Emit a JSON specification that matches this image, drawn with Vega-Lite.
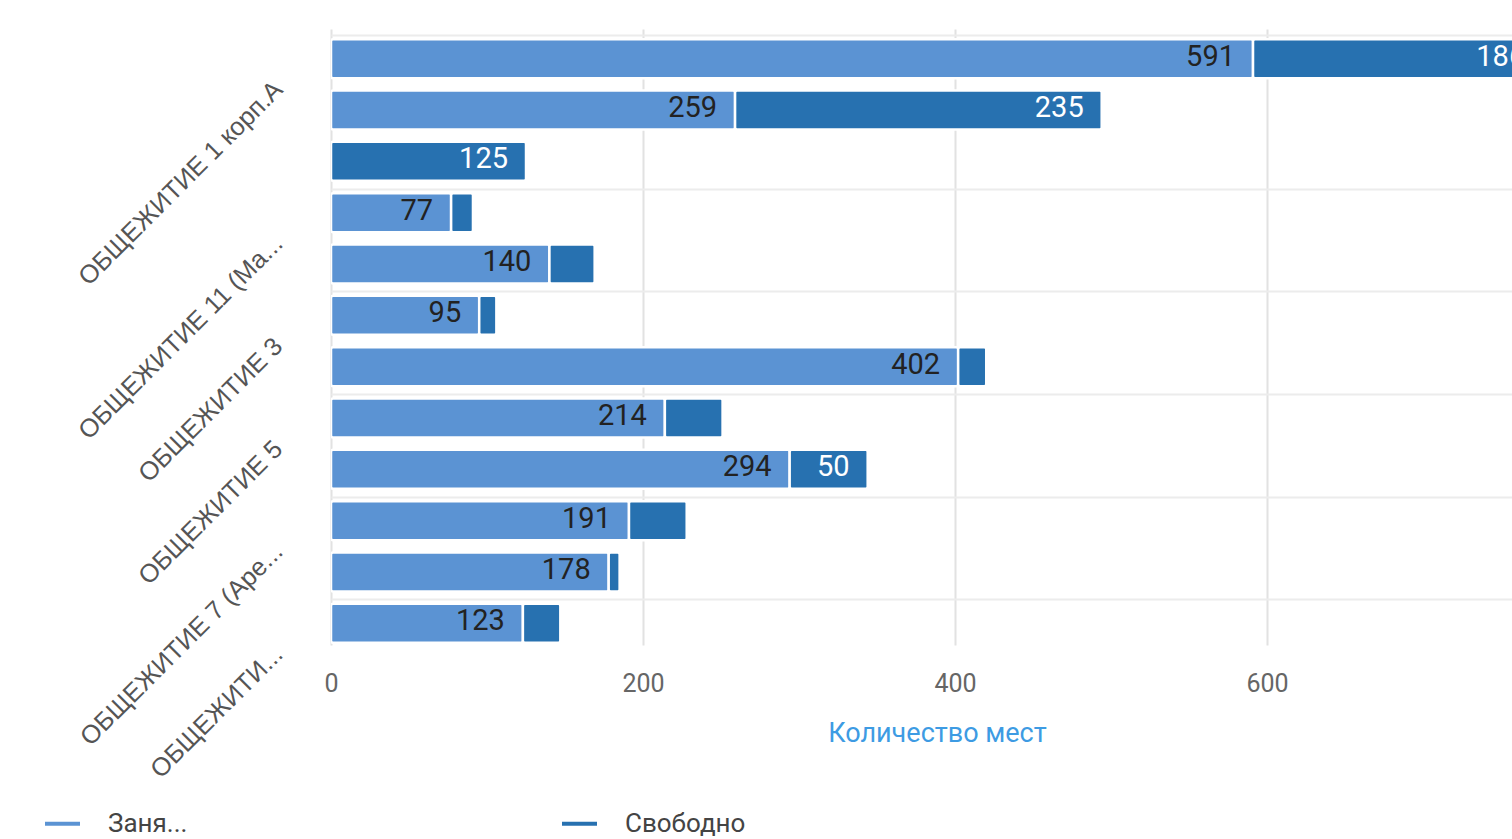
{
  "$schema": "https://vega.github.io/schema/vega-lite/v6.json",
  "autosize": {"type": "none"},
  "padding": {"left": 331, "top": 29, "right": 0, "bottom": 194},
  "width": 1181,
  "height": 616,
  "background": "white",
  "config": {"font": "Roboto", "view": {"stroke": null}},
  "data": {
    "values": [
      {"name": "ОБЩЕЖИТИЕ 1 корп.А", "series": "Занято", "value": 591},
      {"name": "ОБЩЕЖИТИЕ 1 корп.А", "series": "Свободно", "value": 186},
      {"name": "ОБЩЕЖИТИЕ 1 корп.Б", "series": "Занято", "value": 259},
      {"name": "ОБЩЕЖИТИЕ 1 корп.Б", "series": "Свободно", "value": 235},
      {"name": "ОБЩЕЖИТИЕ 10", "series": "Занято", "value": 0},
      {"name": "ОБЩЕЖИТИЕ 10", "series": "Свободно", "value": 125},
      {"name": "ОБЩЕЖИТИЕ 11 (Ма...", "series": "Занято", "value": 77},
      {"name": "ОБЩЕЖИТИЕ 11 (Ма...", "series": "Свободно", "value": 14},
      {"name": "ОБЩЕЖИТИЕ 2", "series": "Занято", "value": 140},
      {"name": "ОБЩЕЖИТИЕ 2", "series": "Свободно", "value": 29},
      {"name": "ОБЩЕЖИТИЕ 3", "series": "Занято", "value": 95},
      {"name": "ОБЩЕЖИТИЕ 3", "series": "Свободно", "value": 11},
      {"name": "ОБЩЕЖИТИЕ 4", "series": "Занято", "value": 402},
      {"name": "ОБЩЕЖИТИЕ 4", "series": "Свободно", "value": 18},
      {"name": "ОБЩЕЖИТИЕ 5", "series": "Занято", "value": 214},
      {"name": "ОБЩЕЖИТИЕ 5", "series": "Свободно", "value": 37},
      {"name": "ОБЩЕЖИТИЕ 6", "series": "Занято", "value": 294},
      {"name": "ОБЩЕЖИТИЕ 6", "series": "Свободно", "value": 50},
      {"name": "ОБЩЕЖИТИЕ 7 (Аре...", "series": "Занято", "value": 191},
      {"name": "ОБЩЕЖИТИЕ 7 (Аре...", "series": "Свободно", "value": 37},
      {"name": "ОБЩЕЖИТИЕ 8", "series": "Занято", "value": 178},
      {"name": "ОБЩЕЖИТИЕ 8", "series": "Свободно", "value": 7},
      {"name": "ОБЩЕЖИТИ...", "series": "Занято", "value": 123},
      {"name": "ОБЩЕЖИТИ...", "series": "Свободно", "value": 24}
    ]
  },
  "transform": [
    {"stack": "value", "groupby": ["name"], "sort": [{"field": "series", "order": "ascending"}], "as": ["v0", "v1"]}
  ],
  "encoding": {
    "y": {
      "field": "name", "type": "nominal", "sort": null,
      "scale": {"paddingInner": 0.24, "paddingOuter": 0.12},
      "axis": {
        "title": null,
        "values": ["ОБЩЕЖИТИЕ 1 корп.А", "ОБЩЕЖИТИЕ 11 (Ма...", "ОБЩЕЖИТИЕ 3", "ОБЩЕЖИТИЕ 5", "ОБЩЕЖИТИЕ 7 (Аре...", "ОБЩЕЖИТИ..."],
        "bandPosition": 0,
        "domain": false, "ticks": false,
        "grid": true, "gridColor": "#ececec", "gridWidth": 2,
        "labelAngle": -45, "labelAlign": "right", "labelBaseline": "middle",
        "labelPadding": 53, "labelOffset": 31,
        "labelFont": "Liberation Sans", "labelFontSize": 25.5, "labelColor": "#555555",
        "labelOverlap": false, "labelLimit": 0, "labelBound": false
      }
    }
  },
  "layer": [
    {
      "mark": {"type": "bar", "stroke": "white", "strokeWidth": 2.5, "cornerRadius": 2, "clip": true, "yOffset": 4},
      "encoding": {
        "x": {
          "field": "v0", "type": "quantitative",
          "scale": {"domain": [0, 757], "nice": false, "zero": true},
          "axis": {
            "values": [0, 200, 400, 600],
            "domain": false, "ticks": false,
            "grid": true, "gridColor": "#e2e2e2", "gridWidth": 2,
            "labelFontSize": 25, "labelColor": "#666666", "labelPadding": 26,
            "labelFlush": false,
            "title": "Количество мест", "titleFontSize": 27, "titleFontWeight": "normal",
            "titleColor": "#3d9be3", "titlePadding": 24, "titleX": 606
          }
        },
        "x2": {"field": "v1"},
        "color": {
          "field": "series", "type": "nominal",
          "scale": {"domain": ["Занято", "Свободно"], "range": ["#5b93d3", "#2771b0"]},
          "legend": {
            "title": null, "orient": "none", "direction": "horizontal",
            "legendX": -286, "legendY": 777,
            "symbolType": "M -1 -0.12 L 1 -0.12 L 1 0.12 L -1 0.12 Z", "symbolSize": 1225, "symbolStrokeWidth": 0,
            "labelFontSize": 26, "labelColor": "#444444", "labelOffset": 28,
            "columnPadding": 374,
            "labelExpr": "datum.label == 'Занято' ? 'Заня...' : datum.label"
          }
        }
      }
    },
    {
      "transform": [
        {"filter": "(datum.series == 'Занято' && datum.value > 0) || datum.value >= 50"}
      ],
      "mark": {"type": "text", "align": "right", "baseline": "middle", "dx": -18, "dy": -2, "yOffset": 4, "fontSize": 29, "clip": true},
      "encoding": {
        "x": {"field": "v1", "type": "quantitative"},
        "text": {"field": "value", "type": "quantitative"},
        "color": {"condition": {"test": "datum.series == 'Свободно'", "value": "white"}, "value": "#222222"}
      }
    }
  ]
}
